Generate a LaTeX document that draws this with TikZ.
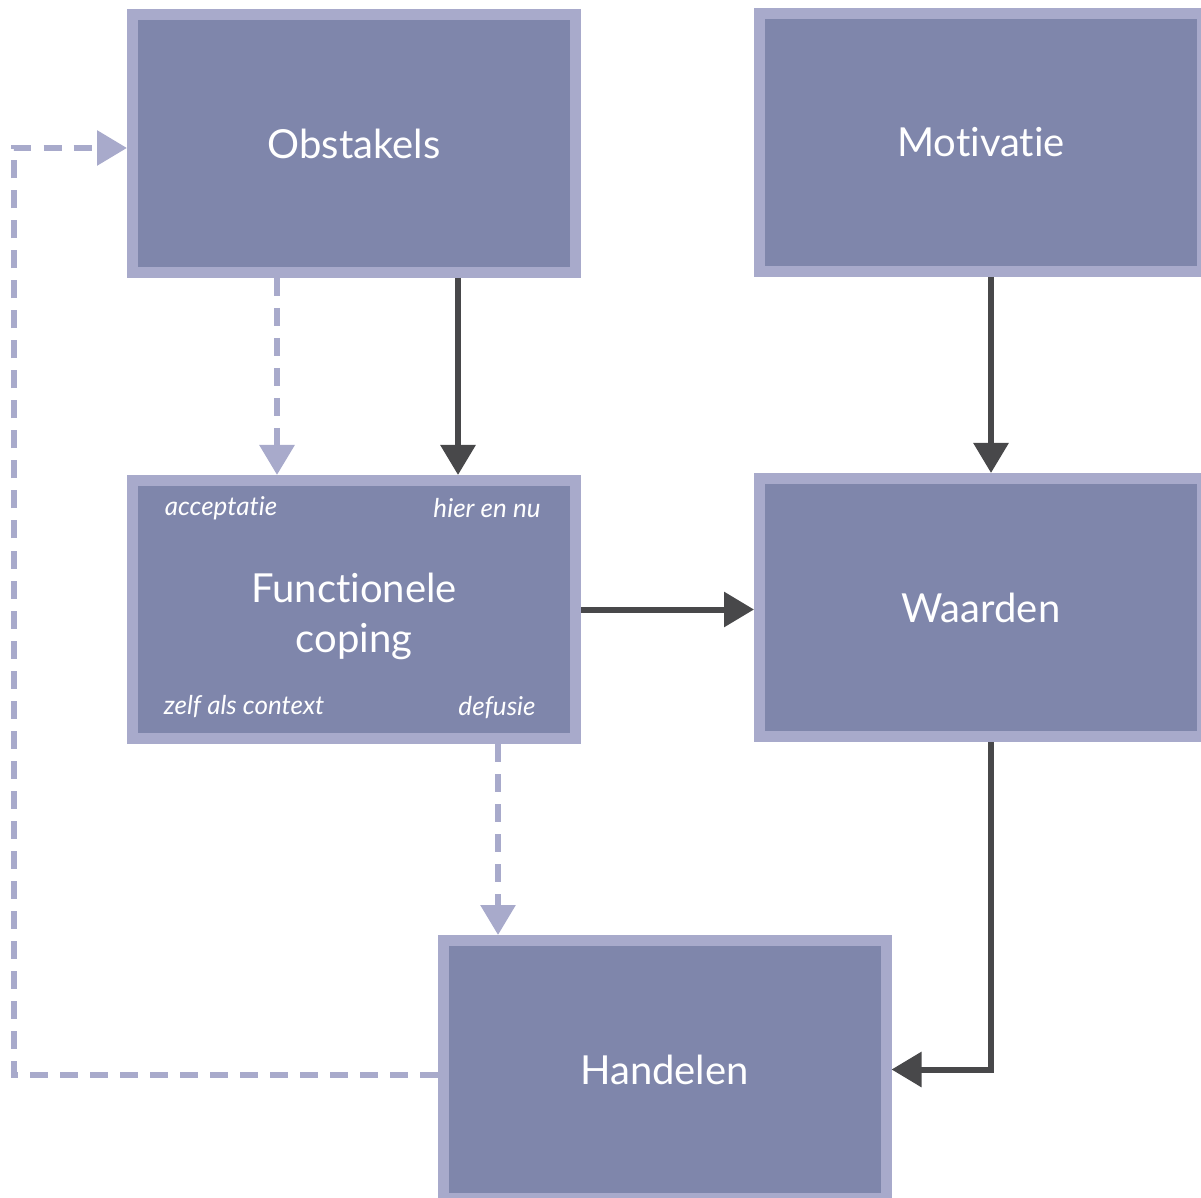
\documentclass[tikz,border=0pt]{standalone}
\usepackage{fontspec}
\setmainfont{Lato}[Ligatures=NoCommon]
\usetikzlibrary{arrows.meta}

\definecolor{boxfill}{HTML}{7F86AB}
\definecolor{boxline}{HTML}{A8AACB}
\definecolor{darkarrow}{HTML}{48484A}

\tikzset{
  blok/.style={draw=boxline, fill=boxfill, line width=5.5pt, minimum width=221.5pt,
    minimum height=129pt, inner sep=0pt, text=white, align=center,
    font=\fontsize{20}{25}\selectfont},
  hoek/.style={text=white, inner sep=0pt, font=\fontsize{13}{15}\selectfont\itshape},
  pijl/.style={darkarrow, line width=3pt, -{Triangle[length=15pt,width=17pt]}},
  stippel/.style={boxline, line width=3pt, dash pattern=on 9pt off 6pt,
    -{Triangle[length=15pt,width=17pt]}}
}

\begin{document}
\begin{tikzpicture}[x=0.5pt, y=-0.5pt]
\useasboundingbox (0,0) rectangle (1201,1198);

% blokken
\node[blok] (obst) at (354,143.5) {Obstakels};
\node[blok] (motiv) at (981,142.5) {Motivatie};
\node[blok] (fc) at (354,609.5) {\raisebox{-4pt}[\height][\depth]{\begin{tabular}{@{}c@{}}Functionele\\coping\end{tabular}}};
\node[blok] (waard) at (981,607.5) {Waarden};
\node[blok] (hand) at (664.5,1069.5) {Handelen};

% hoeken van functionele coping
\node[hoek] (acc) at (221,508) {acceptatie};
\node[hoek] (hier) at (487,508) {hier en nu};
\node[hoek] (zelf) at (244,707) {zelf als context};
\node[hoek] (def) at (497,708) {defusie};

% pijlen
\draw[pijl] ([xshift=52pt]obst.south) -- ([xshift=52pt]obst.south |- fc.north);
\draw[pijl] ([xshift=5pt]motiv.south) -- ([xshift=5pt]motiv.south |- waard.north);
\draw[pijl] (fc.east) -- (fc.east -| waard.west);
\draw[pijl] ([xshift=5pt]waard.south) |- (hand.east);

% gestippeld
\coordinate (obstuit) at ([xshift=-38.5pt]obst.south);
\coordinate (fcuit) at ([xshift=72pt]fc.south);
\coordinate (hoekonder) at (14,1075);
\coordinate (hoekboven) at (14,148);
\draw[stippel] (obstuit) -- (obstuit |- fc.north);
\draw[stippel] (fcuit) -- (fcuit |- hand.north);
\draw[stippel] (hoekonder -| hand.west) -- (hoekonder) -- (hoekboven) -- (hoekboven -| obst.west);
\end{tikzpicture}
\end{document}
